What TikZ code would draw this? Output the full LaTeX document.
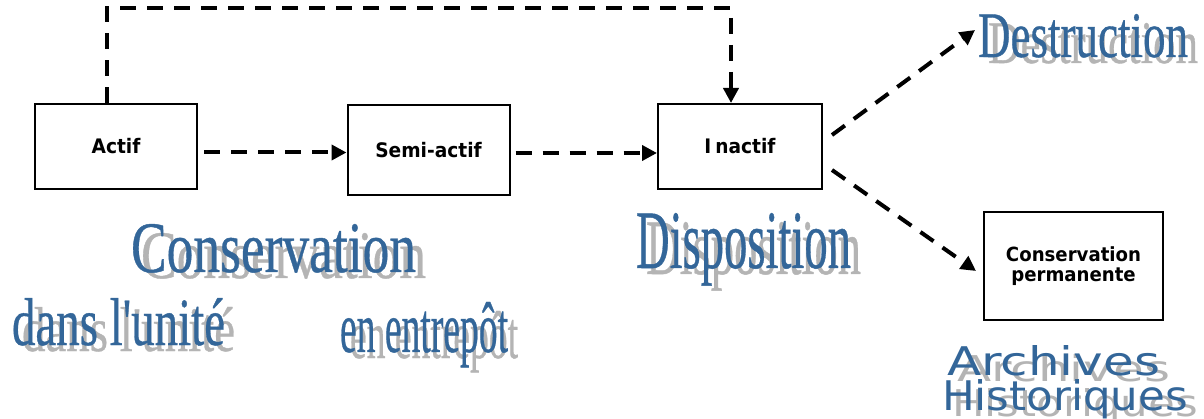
\documentclass[tikz,border=0pt]{standalone}
\usepackage{fontspec}
\usepackage{graphicx}
\usetikzlibrary{arrows.meta}
\setmainfont{Liberation Serif}
\newfontfamily\waserif{Liberation Serif}[FakeBold=0.6]
\newfontfamily\boxfont{DejaVu Sans}[FakeStretch=0.93]
\newfontfamily\wasans{DejaVu Sans}
\definecolor{wablue}{HTML}{336699}
\definecolor{wagray}{HTML}{B4B4B4}
% name, x, y (baseline left), width, height, font, text
\newcommand\wordart[7]{%
  \node[wa, text=wagray] (#1s) at (#2+10,#3+6) {\resizebox{#4pt}{\dimexpr #5pt-3pt\relax}{#6#7}};
  \node[wa, text=wablue] (#1) at (#2,#3) {\resizebox{#4pt}{#5pt}{#6#7}};
}
\begin{document}
\begin{tikzpicture}[x=1pt,y=-1pt,
  stagebox/.style={draw, line width=2pt, inner sep=0pt, font=\boxfont\bfseries\fontsize{20}{20}\selectfont},
  darrow/.style={line width=4pt, dash pattern=on 16pt off 11pt, -{Triangle[length=15pt,width=15pt]}},
  wa/.style={anchor=base west, inner sep=0pt, outer sep=0pt}]
\useasboundingbox (0,0) rectangle (1204,419);

\node[stagebox, minimum width=162pt, minimum height=85pt] (A) at (116,146.5) {Actif};
\node[stagebox, minimum width=162pt, minimum height=90pt] (S) at (428.5,150) {Semi-actif};
\node[stagebox, minimum width=164pt, minimum height=85pt] (I) at (740,146.5) {I\kern4pt nactif};
\node[stagebox, minimum width=179pt, minimum height=108pt, align=center,
      font=\boxfont\bfseries\fontsize{19.5}{20}\selectfont] (P) at (1073.5,266) {Conservation\\permanente};

\wordart{dest}{978}{57}{210}{43}{\waserif}{Destruction}
\wordart{cons}{131}{272}{285}{48}{\waserif}{Conservation}
\wordart{dans}{12}{345}{213}{47}{\waserif}{dans l\textquotesingle unité}
\wordart{entr}{340}{352}{168}{50}{\waserif}{en entrepôt}
\wordart{disp}{636}{268}{215}{55}{\waserif}{Disposition}
\wordart{arch}{947}{375}{213}{30}{\wasans}{Archives}
\wordart{hist}{942}{410}{246}{31}{\wasans}{Historiques}

\coordinate (dtip) at (975,30);
\coordinate (as) at ([xshift=6pt,yshift=-6pt]A.east);
\coordinate (ss) at ([xshift=5pt,yshift=-3pt]S.east);

\draw[darrow] (as) -- (as -| S.west);
\draw[darrow] (ss) -- (ss -| I.west);
\draw[darrow] ([xshift=-9pt]A.north) -- ++(0,-95) -| ([xshift=-9pt]I.north);
\draw[darrow] ([xshift=9pt,yshift=11.5pt]I.east) -- (dtip);
\draw[darrow] ([xshift=9pt,yshift=-23.5pt]I.east) -- ([xshift=-7pt,yshift=-5pt]P.west);
\end{tikzpicture}
\end{document}
